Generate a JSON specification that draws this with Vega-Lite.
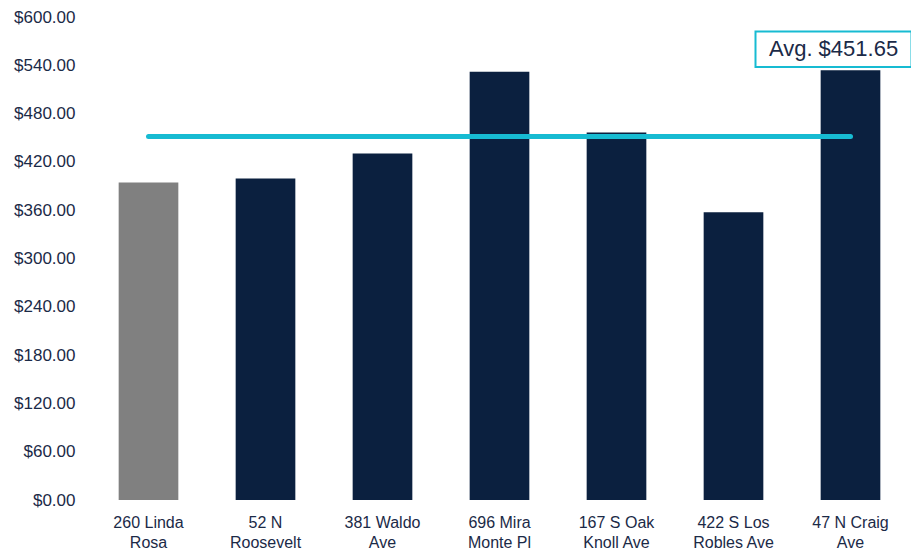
{
  "$schema": "https://vega.github.io/schema/vega-lite/v6.json",
  "autosize": {"type": "none"},
  "width": 819,
  "height": 483,
  "padding": {"left": 90, "top": 17, "right": 2, "bottom": 56},
  "background": "white",
  "config": {
    "view": {"stroke": null},
    "font": "Liberation Sans"
  },
  "datasets": {
    "props": [
      {"property": "260 Linda|Rosa", "price": 394.5, "type": "subject"},
      {"property": "52 N|Roosevelt", "price": 399.5, "type": "comp"},
      {"property": "381 Waldo|Ave", "price": 430.5, "type": "comp"},
      {"property": "696 Mira|Monte Pl", "price": 532.0, "type": "comp"},
      {"property": "167 S Oak|Knoll Ave", "price": 456.5, "type": "comp"},
      {"property": "422 S Los|Robles Ave", "price": 357.5, "type": "comp"},
      {"property": "47 N Craig|Ave", "price": 533.9, "type": "comp"}
    ],
    "avg": [
      {"start": "260 Linda|Rosa", "end": "47 N Craig|Ave", "avg": 451.65, "label": "Avg. $451.65"}
    ]
  },
  "layer": [
    {
      "data": {"name": "props"},
      "mark": {"type": "bar"},
      "encoding": {
        "x": {
          "field": "property",
          "type": "nominal",
          "sort": null,
          "scale": {
            "domain": ["260 Linda|Rosa", "52 N|Roosevelt", "381 Waldo|Ave", "696 Mira|Monte Pl", "167 S Oak|Knoll Ave", "422 S Los|Robles Ave", "47 N Craig|Ave"],
            "paddingInner": 0.49, "paddingOuter": 0.245
          },
          "axis": {
            "title": null,
            "labelAngle": 0,
            "labelExpr": "split(datum.label, '|')",
            "labelFontSize": 16,
            "labelLineHeight": 20,
            "labelColor": "#1B2A47",
            "labelPadding": 14,
            "domain": false,
            "ticks": false,
            "labelBaseline": "top"
          }
        },
        "y": {
          "field": "price",
          "type": "quantitative",
          "scale": {"domain": [0, 600]},
          "axis": {
            "title": null,
            "values": [0, 60, 120, 180, 240, 300, 360, 420, 480, 540, 600],
            "format": "$.2f",
            "labelFontSize": 17,
            "labelColor": "#1B2A47",
            "labelPadding": 15,
            "domain": false,
            "ticks": false,
            "grid": false
          }
        },
        "color": {
          "field": "type",
          "type": "nominal",
          "scale": {"domain": ["subject", "comp"], "range": ["#808080", "#0B203F"]},
          "legend": null
        }
      }
    },
    {
      "data": {"name": "avg"},
      "mark": {"type": "rule", "color": "#17BBD2", "strokeWidth": 5, "strokeCap": "round"},
      "encoding": {
        "x": {"field": "start", "type": "nominal"},
        "x2": {"field": "end"},
        "y": {"field": "avg", "type": "quantitative"}
      }
    },
    {
      "data": {"name": "avg"},
      "mark": {"type": "bar", "width": 156, "xOffset": -17, "fill": "white", "stroke": "#17BBD2", "strokeWidth": 2},
      "encoding": {
        "x": {"field": "end", "type": "nominal"},
        "y": {"datum": 538},
        "y2": {"datum": 582}
      }
    },
    {
      "data": {"name": "avg"},
      "mark": {"type": "text", "fontSize": 22, "color": "#1B2A47", "xOffset": -17, "align": "center", "baseline": "middle"},
      "encoding": {
        "x": {"field": "end", "type": "nominal"},
        "y": {"datum": 560},
        "text": {"field": "label"}
      }
    }
  ]
}
